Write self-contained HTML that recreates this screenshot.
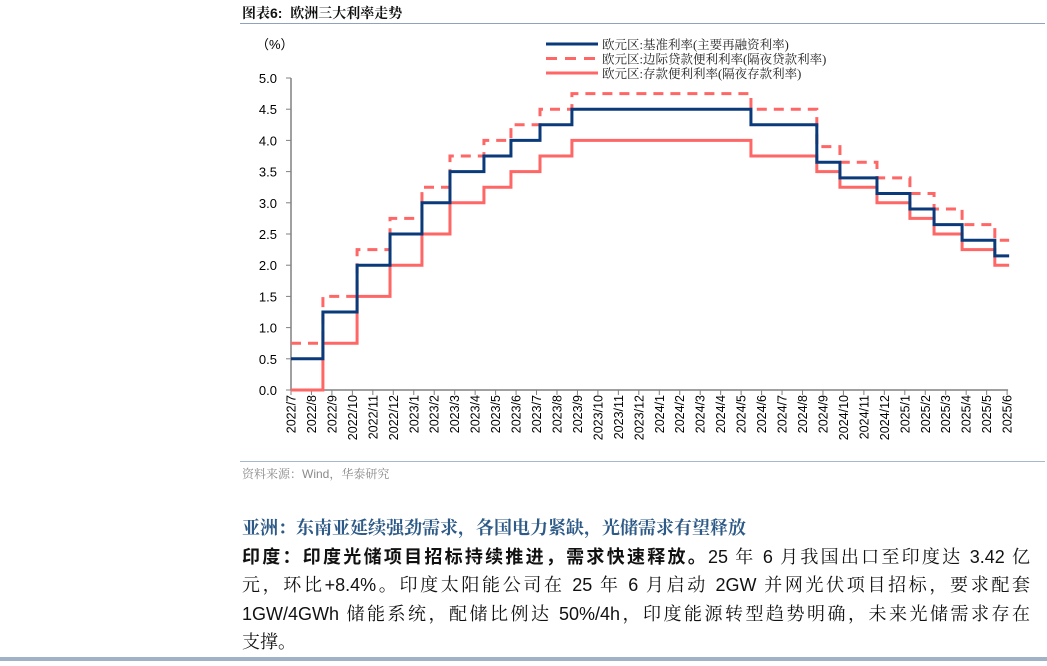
<!DOCTYPE html>
<html><head><meta charset="utf-8">
<style>
body{margin:0;background:#fff;width:1047px;height:666px;overflow:hidden;position:relative;font-family:"Liberation Sans","Noto Serif CJK SC",serif;}
.abs{position:absolute;}
.ln{position:absolute;left:242px;width:788px;font-size:18px;color:#111;white-space:nowrap;text-align:justify;text-align-last:justify;font-family:"Liberation Sans","Noto Serif CJK SC",serif;}
</style></head><body>
<div class="abs" style="left:242px;top:3px;font-size:14px;font-weight:bold;color:#111;font-family:'Liberation Sans','Noto Serif CJK SC',serif;">图表6:&nbsp;&nbsp;欧洲三大利率走势</div>
<div class="abs" style="left:240px;top:23px;width:805px;height:1px;background:#8ea3bf;"></div>
<svg class="abs" style="left:0;top:0" width="1047" height="470" id="chart"></svg>
<div class="abs" style="left:240px;top:461px;width:805px;height:1px;background:#a8b8cc;"></div>
<div class="abs" style="left:242px;top:465px;font-size:12px;color:#8a8a8a;font-family:'Liberation Sans','Noto Serif CJK SC',serif;">资料来源：Wind，华泰研究</div>
<div class="abs" style="left:242px;top:514px;font-size:18px;font-weight:bold;color:#2d5a86;font-family:'Liberation Serif','Noto Serif CJK SC',serif;">亚洲：东南亚延续强劲需求，各国电力紧缺，光储需求有望释放</div>
<div>
<div class="ln" style="top:543px;"><b style="font-family:'Liberation Sans','Noto Sans CJK SC',sans-serif;">印度：印度光储项目招标持续推进，需求快速释放。</b>25 年 6 月我国出口至印度达 3.42 亿</div>
<div class="ln" style="top:571px;">元，环比+8.4%。印度太阳能公司在 25 年 6 月启动 2GW 并网光伏项目招标，要求配套</div>
<div class="ln" style="top:600px;">1GW/4GWh 储能系统，配储比例达 50%/4h，印度能源转型趋势明确，未来光储需求存在</div>
<div class="ln" style="top:628px;text-align-last:left;">支撑。</div>
</div>
<div class="abs" style="left:0;top:657px;width:1047px;height:4px;background:#9fb2c8;"></div>
<script>
const months=["2022/7","2022/8","2022/9","2022/10","2022/11","2022/12","2023/1","2023/2","2023/3","2023/4","2023/5","2023/6","2023/7","2023/8","2023/9","2023/10","2023/11","2023/12","2024/1","2024/2","2024/3","2024/4","2024/5","2024/6","2024/7","2024/8","2024/9","2024/10","2024/11","2024/12","2025/1","2025/2","2025/3","2025/4","2025/5","2025/6"];
const yTicks=["0.0","0.5","1.0","1.5","2.0","2.5","3.0","3.5","4.0","4.5","5.0"];
const changeTimes=[0,1.56,3.23,4.84,6.4,7.77,9.43,10.75,12.17,13.73,22.48,25.7,26.83,28.64,30.25,31.43,32.8,34.4,35.1];
const mroRate=[0.5,1.25,2.0,2.5,3.0,3.5,3.75,4.0,4.25,4.5,4.25,3.65,3.40,3.15,2.90,2.65,2.40,2.15];
const mlfRate=[0.75,1.5,2.25,2.75,3.25,3.75,4.0,4.25,4.5,4.75,4.5,3.90,3.65,3.40,3.15,2.90,2.65,2.40];
const dfRate=[0.0,0.75,1.5,2.0,2.5,3.0,3.25,3.5,3.75,4.0,3.75,3.5,3.25,3.0,2.75,2.5,2.25,2.0];
const seriesNames=["欧元区:基准利率(主要再融资利率)","欧元区:边际贷款便利利率(隔夜贷款利率)","欧元区:存款便利利率(隔夜存款利率)"];

const svg=document.getElementById('chart');const NS="http://www.w3.org/2000/svg";
const X0=291,XS=20.46,Y0=390,YT=78;
const xs=t=>X0+t*XS, ys=v=>Y0-(v/5)*(Y0-YT);
function mk(tag,attrs,name,txt){const e=document.createElementNS(NS,tag);for(const k in attrs)e.setAttribute(k,attrs[k]);


if(txt!==undefined)e.textContent=txt;svg.appendChild(e);return e;}
const F="'Liberation Sans','Noto Sans CJK SC',sans-serif";
mk('line',{x1:X0,y1:YT,x2:X0,y2:Y0,stroke:'#808080','stroke-width':1.5},'y-axis');
mk('line',{x1:X0,y1:Y0,x2:xs(months.length-1)+1,y2:Y0,stroke:'#808080','stroke-width':1.5},'x-axis');
yTicks.forEach((l,i)=>{const y=ys(+l);
mk('line',{x1:X0-5,y1:y,x2:X0,y2:y,stroke:'#808080','stroke-width':1},'y-tick');
mk('text',{x:X0-14,y:y+5,'text-anchor':'end','font-size':13,fill:'#000','font-family':F},'y-tick-label',l);});
mk('text',{x:256,y:49,'font-size':13,fill:'#000','font-family':F},'y-axis-unit','（%）');
months.forEach((m,i)=>{const x=xs(i);
mk('line',{x1:x,y1:Y0,x2:x,y2:Y0+5,stroke:'#808080','stroke-width':1},'x-tick');
mk('text',{x:0,y:0,transform:`translate(${x+4.5},${Y0+5}) rotate(-90)`,'text-anchor':'end','font-size':12.5,fill:'#000','font-family':F},'x-tick-label',m);});
function stepPath(vals){let d='';for(let i=0;i<vals.length;i++){const x1=xs(changeTimes[i]),x2=xs(changeTimes[i+1]),y=ys(vals[i]);d+=(i===0?`M${x1},${y}`:`L${x1},${y}`)+`L${x2},${y}`;}return d;}
mk('path',{d:stepPath(dfRate),fill:'none',stroke:'#ff6666','stroke-width':3},'deposit-facility-line');
mk('path',{d:stepPath(mlfRate),fill:'none',stroke:'#ff6666','stroke-width':3,'stroke-dasharray':'10,7'},'marginal-lending-line');
mk('path',{d:stepPath(mroRate),fill:'none',stroke:'#0a3a7a','stroke-width':3},'main-refinancing-line');
const lg=[{c:'#0a3a7a',d:null},{c:'#ff6666',d:'10,7'},{c:'#ff6666',d:null}];
lg.forEach((s,i)=>{const y=44+i*14.5;const a={x1:546,y1:y,x2:598,y2:y,stroke:s.c,'stroke-width':3};if(s.d)a['stroke-dasharray']='11,8';
mk('line',a,'legend-swatch');
mk('text',{x:602,y:y+5,'font-size':12.5,fill:'#222','font-family':"'Liberation Serif','Noto Serif CJK SC',serif"},'legend-entry',seriesNames[i]);});
</script>
</body></html>
